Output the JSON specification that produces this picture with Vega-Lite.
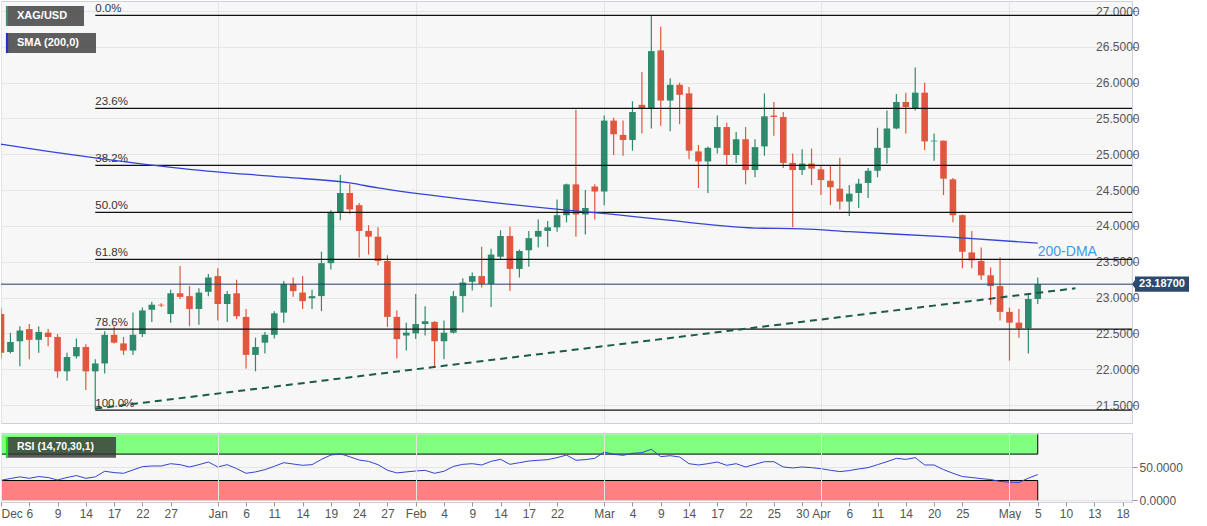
{
"$schema": "https://vega.github.io/schema/vega-lite/v6.json",
"background": "white",
"padding": 0,
"spacing": 8,
"config": {"font": "Liberation Sans", "view": {"fill": "#f7f7f7", "stroke": "#cdd1db"}, "axis": {"labelFont": "Liberation Sans", "labelColor": "#555555", "labelFontSize": 12, "tickColor": "#999999", "gridColor": "#e4e4e4", "domain": false, "labelAngle": 0, "labelOverlap": false, "labelFlush": false, "labelBound": false}},
"datasets": {
"candles": [
{"date":"2021-12-01","open":22.77,"high":22.85,"low":22.15,"close":22.23,"rsi":30.3},
{"date":"2021-12-02","open":22.24,"high":22.51,"low":22.22,"close":22.38,"rsi":33},
{"date":"2021-12-03","open":22.39,"high":22.60,"low":22.04,"close":22.54,"rsi":35.5},
{"date":"2021-12-06","open":22.56,"high":22.63,"low":22.14,"close":22.41,"rsi":33.3},
{"date":"2021-12-07","open":22.41,"high":22.60,"low":22.23,"close":22.52,"rsi":36},
{"date":"2021-12-08","open":22.51,"high":22.56,"low":22.32,"close":22.45,"rsi":34.5},
{"date":"2021-12-09","open":22.45,"high":22.49,"low":21.88,"close":21.97,"rsi":30.8},
{"date":"2021-12-10","open":21.97,"high":22.23,"low":21.84,"close":22.17,"rsi":34.5},
{"date":"2021-12-13","open":22.18,"high":22.43,"low":22.15,"close":22.31,"rsi":37.5},
{"date":"2021-12-14","open":22.31,"high":22.35,"low":21.71,"close":21.97,"rsi":33.3},
{"date":"2021-12-15","open":21.97,"high":22.14,"low":21.44,"close":22.08,"rsi":35.5},
{"date":"2021-12-16","open":22.08,"high":22.53,"low":21.94,"close":22.48,"rsi":44},
{"date":"2021-12-17","open":22.48,"high":22.60,"low":22.36,"close":22.37,"rsi":42},
{"date":"2021-12-20","open":22.36,"high":22.45,"low":22.20,"close":22.26,"rsi":40.9},
{"date":"2021-12-21","open":22.26,"high":22.79,"low":22.20,"close":22.48,"rsi":46},
{"date":"2021-12-22","open":22.49,"high":22.86,"low":22.45,"close":22.82,"rsi":51},
{"date":"2021-12-23","open":22.83,"high":22.94,"low":22.66,"close":22.90,"rsi":52},
{"date":"2021-12-24","open":22.90,"high":22.92,"low":22.87,"close":22.89,"rsi":52},
{"date":"2021-12-27","open":22.77,"high":23.11,"low":22.65,"close":23.06,"rsi":55.5},
{"date":"2021-12-28","open":23.06,"high":23.44,"low":22.98,"close":23.01,"rsi":54},
{"date":"2021-12-29","open":23.02,"high":23.16,"low":22.60,"close":22.84,"rsi":50.5},
{"date":"2021-12-30","open":22.84,"high":23.13,"low":22.62,"close":23.07,"rsi":54},
{"date":"2021-12-31","open":23.08,"high":23.33,"low":23.02,"close":23.28,"rsi":58},
{"date":"2022-01-03","open":23.30,"high":23.41,"low":22.68,"close":22.91,"rsi":50.5},
{"date":"2022-01-04","open":22.91,"high":23.09,"low":22.66,"close":23.05,"rsi":54},
{"date":"2022-01-05","open":23.06,"high":23.25,"low":22.70,"close":22.74,"rsi":48},
{"date":"2022-01-06","open":22.73,"high":22.84,"low":22.01,"close":22.20,"rsi":40.9},
{"date":"2022-01-07","open":22.20,"high":22.44,"low":21.97,"close":22.31,"rsi":43},
{"date":"2022-01-10","open":22.37,"high":22.52,"low":22.22,"close":22.48,"rsi":46.4},
{"date":"2022-01-11","open":22.48,"high":22.81,"low":22.43,"close":22.78,"rsi":51.5},
{"date":"2022-01-12","open":22.79,"high":23.23,"low":22.65,"close":23.19,"rsi":57},
{"date":"2022-01-13","open":23.19,"high":23.28,"low":23.01,"close":23.09,"rsi":55},
{"date":"2022-01-14","open":23.07,"high":23.30,"low":22.84,"close":22.95,"rsi":53},
{"date":"2022-01-17","open":22.99,"high":23.11,"low":22.84,"close":23.02,"rsi":54},
{"date":"2022-01-18","open":23.02,"high":23.64,"low":22.81,"close":23.48,"rsi":62},
{"date":"2022-01-19","open":23.48,"high":24.22,"low":23.39,"close":24.18,"rsi":68.6},
{"date":"2022-01-20","open":24.19,"high":24.71,"low":24.08,"close":24.46,"rsi":70.5},
{"date":"2022-01-21","open":24.46,"high":24.58,"low":24.17,"close":24.23,"rsi":66},
{"date":"2022-01-24","open":24.29,"high":24.32,"low":23.56,"close":23.93,"rsi":61},
{"date":"2022-01-25","open":23.93,"high":24.01,"low":23.60,"close":23.85,"rsi":59},
{"date":"2022-01-26","open":23.85,"high":23.98,"low":23.45,"close":23.51,"rsi":54},
{"date":"2022-01-27","open":23.51,"high":23.59,"low":22.59,"close":22.73,"rsi":45.5},
{"date":"2022-01-28","open":22.73,"high":22.82,"low":22.15,"close":22.42,"rsi":41.5},
{"date":"2022-01-31","open":22.47,"high":22.65,"low":22.26,"close":22.51,"rsi":43},
{"date":"2022-02-01","open":22.50,"high":23.05,"low":22.42,"close":22.63,"rsi":44.4},
{"date":"2022-02-02","open":22.63,"high":22.88,"low":22.47,"close":22.67,"rsi":45.4},
{"date":"2022-02-03","open":22.66,"high":22.67,"low":22.02,"close":22.39,"rsi":40.9},
{"date":"2022-02-04","open":22.39,"high":22.68,"low":22.14,"close":22.51,"rsi":44},
{"date":"2022-02-07","open":22.51,"high":23.09,"low":22.50,"close":23.02,"rsi":51.4},
{"date":"2022-02-08","open":23.02,"high":23.27,"low":22.79,"close":23.21,"rsi":54.5},
{"date":"2022-02-09","open":23.22,"high":23.35,"low":23.10,"close":23.30,"rsi":55.5},
{"date":"2022-02-10","open":23.30,"high":23.71,"low":23.14,"close":23.19,"rsi":53.5},
{"date":"2022-02-11","open":23.19,"high":23.68,"low":22.87,"close":23.60,"rsi":59},
{"date":"2022-02-14","open":23.57,"high":23.94,"low":23.53,"close":23.86,"rsi":62.1},
{"date":"2022-02-15","open":23.86,"high":23.99,"low":23.09,"close":23.40,"rsi":54.5},
{"date":"2022-02-16","open":23.40,"high":23.67,"low":23.28,"close":23.65,"rsi":57},
{"date":"2022-02-17","open":23.66,"high":23.93,"low":23.43,"close":23.83,"rsi":59.5},
{"date":"2022-02-18","open":23.85,"high":24.09,"low":23.70,"close":23.93,"rsi":60.6},
{"date":"2022-02-21","open":23.93,"high":24.07,"low":23.71,"close":23.98,"rsi":61.6},
{"date":"2022-02-22","open":23.98,"high":24.37,"low":23.92,"close":24.15,"rsi":64.6},
{"date":"2022-02-23","open":24.15,"high":24.59,"low":24.05,"close":24.58,"rsi":68.6},
{"date":"2022-02-24","open":24.58,"high":25.62,"low":23.85,"close":24.16,"rsi":60.6},
{"date":"2022-02-25","open":24.16,"high":24.50,"low":23.88,"close":24.25,"rsi":61.6},
{"date":"2022-02-28","open":24.55,"high":24.58,"low":24.09,"close":24.48,"rsi":63.6},
{"date":"2022-03-01","open":24.48,"high":25.54,"low":24.29,"close":25.47,"rsi":73.2},
{"date":"2022-03-02","open":25.47,"high":25.51,"low":24.99,"close":25.28,"rsi":69.7},
{"date":"2022-03-03","open":25.27,"high":25.47,"low":24.98,"close":25.20,"rsi":68.2},
{"date":"2022-03-04","open":25.20,"high":25.74,"low":25.05,"close":25.59,"rsi":71.2},
{"date":"2022-03-07","open":25.69,"high":26.15,"low":25.29,"close":25.64,"rsi":72.2},
{"date":"2022-03-08","open":25.64,"high":26.94,"low":25.36,"close":26.44,"rsi":77.3},
{"date":"2022-03-09","open":26.45,"high":26.78,"low":25.40,"close":25.75,"rsi":66.1},
{"date":"2022-03-10","open":25.75,"high":26.06,"low":25.32,"close":25.97,"rsi":67.6},
{"date":"2022-03-11","open":25.97,"high":26.00,"low":25.42,"close":25.83,"rsi":65.6},
{"date":"2022-03-14","open":25.85,"high":25.94,"low":24.93,"close":25.05,"rsi":55.5},
{"date":"2022-03-15","open":25.04,"high":25.13,"low":24.53,"close":24.90,"rsi":53.5},
{"date":"2022-03-16","open":24.90,"high":25.11,"low":24.46,"close":25.09,"rsi":55.5},
{"date":"2022-03-17","open":25.09,"high":25.54,"low":25.01,"close":25.38,"rsi":58},
{"date":"2022-03-18","open":25.38,"high":25.44,"low":24.84,"close":24.99,"rsi":53},
{"date":"2022-03-21","open":24.99,"high":25.31,"low":24.88,"close":25.21,"rsi":55.5},
{"date":"2022-03-22","open":25.21,"high":25.38,"low":24.58,"close":24.78,"rsi":50.5},
{"date":"2022-03-23","open":24.78,"high":25.21,"low":24.68,"close":25.10,"rsi":54.5},
{"date":"2022-03-24","open":25.11,"high":25.85,"low":24.98,"close":25.53,"rsi":58.5},
{"date":"2022-03-25","open":25.54,"high":25.73,"low":25.26,"close":25.52,"rsi":58.5},
{"date":"2022-03-28","open":25.52,"high":25.59,"low":24.81,"close":24.88,"rsi":50.5},
{"date":"2022-03-29","open":24.88,"high":25.01,"low":23.98,"close":24.78,"rsi":49},
{"date":"2022-03-30","open":24.78,"high":25.07,"low":24.71,"close":24.87,"rsi":50.5},
{"date":"2022-03-31","open":24.87,"high":25.08,"low":24.57,"close":24.80,"rsi":49.5},
{"date":"2022-04-01","open":24.79,"high":24.85,"low":24.43,"close":24.64,"rsi":47.9},
{"date":"2022-04-04","open":24.63,"high":24.85,"low":24.29,"close":24.54,"rsi":45.5},
{"date":"2022-04-05","open":24.52,"high":24.95,"low":24.23,"close":24.34,"rsi":43.5},
{"date":"2022-04-06","open":24.34,"high":24.57,"low":24.14,"close":24.45,"rsi":45},
{"date":"2022-04-07","open":24.46,"high":24.66,"low":24.25,"close":24.59,"rsi":47.5},
{"date":"2022-04-08","open":24.60,"high":24.81,"low":24.39,"close":24.77,"rsi":49.5},
{"date":"2022-04-11","open":24.77,"high":25.37,"low":24.68,"close":25.09,"rsi":54},
{"date":"2022-04-12","open":25.09,"high":25.61,"low":24.87,"close":25.36,"rsi":58.5},
{"date":"2022-04-13","open":25.36,"high":25.84,"low":25.35,"close":25.73,"rsi":63.6},
{"date":"2022-04-14","open":25.73,"high":25.86,"low":25.29,"close":25.66,"rsi":62},
{"date":"2022-04-18","open":25.64,"high":26.21,"low":25.61,"close":25.86,"rsi":64.6},
{"date":"2022-04-19","open":25.86,"high":26.00,"low":25.06,"close":25.18,"rsi":53.5},
{"date":"2022-04-20","open":25.18,"high":25.29,"low":24.91,"close":25.19,"rsi":53.5},
{"date":"2022-04-21","open":25.19,"high":25.19,"low":24.43,"close":24.66,"rsi":46.5},
{"date":"2022-04-22","open":24.65,"high":24.67,"low":24.05,"close":24.15,"rsi":41},
{"date":"2022-04-25","open":24.15,"high":24.16,"low":23.41,"close":23.64,"rsi":36},
{"date":"2022-04-26","open":23.63,"high":23.93,"low":23.41,"close":23.52,"rsi":34.5},
{"date":"2022-04-27","open":23.51,"high":23.70,"low":23.25,"close":23.31,"rsi":32.8},
{"date":"2022-04-28","open":23.31,"high":23.42,"low":22.90,"close":23.16,"rsi":31.5},
{"date":"2022-04-29","open":23.16,"high":23.56,"low":22.68,"close":22.80,"rsi":28.5},
{"date":"2022-05-02","open":22.80,"high":22.86,"low":22.12,"close":22.65,"rsi":27.5},
{"date":"2022-05-03","open":22.65,"high":22.84,"low":22.44,"close":22.57,"rsi":27},
{"date":"2022-05-04","open":22.57,"high":23.05,"low":22.22,"close":22.98,"rsi":33.5},
{"date":"2022-05-05","open":22.98,"high":23.28,"low":22.91,"close":23.187,"rsi":39}
],
"sma": [
{"date":"2021-12-01","sma":25.14},{"date":"2021-12-08","sma":25.04},{"date":"2021-12-15","sma":24.95},{"date":"2021-12-29","sma":24.79},{"date":"2022-01-12","sma":24.68},{"date":"2022-01-21","sma":24.60},{"date":"2022-01-26","sma":24.53},{"date":"2022-02-09","sma":24.36},{"date":"2022-02-23","sma":24.22},{"date":"2022-03-02","sma":24.16},{"date":"2022-03-09","sma":24.09},{"date":"2022-03-23","sma":23.97},{"date":"2022-03-30","sma":23.96},{"date":"2022-04-06","sma":23.92},{"date":"2022-04-21","sma":23.85},{"date":"2022-05-05","sma":23.76}
],
"trend": [{"date":"2021-12-15","price":21.45},{"date":"2022-05-11","price":23.13}],
"fibs": [
{"level":"0.0%","price":26.94},{"level":"23.6%","price":25.64},{"level":"38.2%","price":24.845},{"level":"50.0%","price":24.19},{"level":"61.8%","price":23.534},{"level":"78.6%","price":22.56},{"level":"100.0%","price":21.43}
],
"last": [{"date":"2022-05-05","close":23.187}],
"bands": [{"zone":"overbought","lo":70,"hi":100,"edge":70},{"zone":"oversold","lo":0,"hi":30,"edge":30}]
},
"vconcat": [
{
"width": 1131, "height": 422,
"encoding": {"x": {"field": "date", "type": "ordinal", "title": null,
  "scale": {"type": "point", "padding": 0, "domain": ["2021-12-01","2021-12-02","2021-12-03","2021-12-06","2021-12-07","2021-12-08","2021-12-09","2021-12-10","2021-12-13","2021-12-14","2021-12-15","2021-12-16","2021-12-17","2021-12-20","2021-12-21","2021-12-22","2021-12-23","2021-12-24","2021-12-27","2021-12-28","2021-12-29","2021-12-30","2021-12-31","2022-01-03","2022-01-04","2022-01-05","2022-01-06","2022-01-07","2022-01-10","2022-01-11","2022-01-12","2022-01-13","2022-01-14","2022-01-17","2022-01-18","2022-01-19","2022-01-20","2022-01-21","2022-01-24","2022-01-25","2022-01-26","2022-01-27","2022-01-28","2022-01-31","2022-02-01","2022-02-02","2022-02-03","2022-02-04","2022-02-07","2022-02-08","2022-02-09","2022-02-10","2022-02-11","2022-02-14","2022-02-15","2022-02-16","2022-02-17","2022-02-18","2022-02-21","2022-02-22","2022-02-23","2022-02-24","2022-02-25","2022-02-28","2022-03-01","2022-03-02","2022-03-03","2022-03-04","2022-03-07","2022-03-08","2022-03-09","2022-03-10","2022-03-11","2022-03-14","2022-03-15","2022-03-16","2022-03-17","2022-03-18","2022-03-21","2022-03-22","2022-03-23","2022-03-24","2022-03-25","2022-03-28","2022-03-29","2022-03-30","2022-03-31","2022-04-01","2022-04-04","2022-04-05","2022-04-06","2022-04-07","2022-04-08","2022-04-11","2022-04-12","2022-04-13","2022-04-14","2022-04-18","2022-04-19","2022-04-20","2022-04-21","2022-04-22","2022-04-25","2022-04-26","2022-04-27","2022-04-28","2022-04-29","2022-05-02","2022-05-03","2022-05-04","2022-05-05","2022-05-06","2022-05-09","2022-05-10","2022-05-11","2022-05-12","2022-05-13","2022-05-16","2022-05-17","2022-05-18","2022-05-19"]},
  "axis": {"values": ["2021-12-01","2022-01-03","2022-02-01","2022-03-01","2022-04-01","2022-05-02"], "tickCount": 50, "grid": true, "labels": false, "ticks": false, "domain": false, "title": null}}},
"layer": [
{"data": {"name": "candles"}, "mark": {"type": "rule", "strokeWidth": 1.2, "clip": true},
 "encoding": {"y": {"field": "low", "type": "quantitative", "title": null}, "y2": {"field": "high"},
  "color": {"condition": {"test": "datum.close >= datum.open", "value": "#2f8a6d"}, "value": "#e0573e"}}},
{"data": {"name": "candles"}, "mark": {"type": "rule", "strokeWidth": 6.6, "strokeCap": "butt", "clip": true},
 "encoding": {"y": {"field": "open", "type": "quantitative", "title": null}, "y2": {"field": "close"},
  "color": {"condition": {"test": "datum.close >= datum.open", "value": "#2f8a6d"}, "value": "#e0573e"}}},
{"data": {"name": "fibs"}, "mark": {"type": "rule", "color": "#111111", "strokeWidth": 1.3},
 "encoding": {"x": {"datum": "2021-12-15", "type": "ordinal"}, "x2": {"datum": "2022-05-19"},
  "y": {"field": "price", "type": "quantitative", "title": null,
   "scale": {"domain": [21.2491, 27.1396], "nice": false, "zero": false},
   "axis": {"orient": "right", "values": [21.5,22,22.5,23,23.5,24,24.5,25,25.5,26,26.5,27], "tickCount": 40, "format": ".4f", "grid": true, "gridColor": "#e6e6e6", "tickSize": 5, "labelPadding": 2, "labelOverlap": false, "labelFlush": false, "labelBound": false, "domain": false, "title": null}}}},
{"data": {"name": "fibs"}, "mark": {"type": "text", "align": "left", "baseline": "alphabetic", "dy": -3, "fontSize": 11.5, "color": "#333333"},
 "encoding": {"x": {"datum": "2021-12-15", "type": "ordinal"}, "y": {"field": "price", "type": "quantitative", "title": null}, "text": {"field": "level"}}},
{"data": {"name": "last"}, "mark": {"type": "rule", "color": "#1f3d66", "strokeWidth": 1},
 "encoding": {"x": {"datum": "2021-12-01", "type": "ordinal"}, "x2": {"datum": "2022-05-19"}, "y": {"field": "close", "type": "quantitative", "title": null}}},
{"data": {"name": "sma"}, "mark": {"type": "line", "color": "#3444d6", "strokeWidth": 1.3, "interpolate": "monotone", "clip": true},
 "encoding": {"y": {"field": "sma", "type": "quantitative", "title": null}}},
{"data": {"name": "trend"}, "mark": {"type": "line", "color": "#1b5b47", "strokeWidth": 2, "strokeDash": [7, 5]},
 "encoding": {"y": {"field": "price", "type": "quantitative", "title": null}}},
{"data": {"values": [{}]}, "mark": {"type": "text", "text": "200-DMA", "align": "left", "baseline": "middle", "fontSize": 14, "color": "#3d9be9"},
 "encoding": {"x": {"datum": "2022-05-05", "type": "ordinal"}, "y": {"datum": 23.636, "type": "quantitative"}}},
{"data": {"name": "last"}, "mark": {"type": "point", "shape": "M -1.11 0 L -1 -0.15 L -1 -0.285 L 1 -0.285 L 1 0.285 L -1 0.285 L -1 0.15 Z", "size": 2916, "filled": true, "color": "#2b4a6e", "opacity": 1, "strokeWidth": 0, "xOffset": 30},
 "encoding": {"x": {"datum": "2022-05-19", "type": "ordinal"}, "y": {"field": "close", "type": "quantitative", "title": null}}},
{"data": {"name": "last"}, "mark": {"type": "text", "align": "center", "baseline": "middle", "dx": 30, "fontSize": 11, "fontWeight": "bold", "color": "#ffffff"},
 "encoding": {"x": {"datum": "2022-05-19", "type": "ordinal"}, "y": {"field": "close", "type": "quantitative", "title": null}, "text": {"field": "close", "format": ".5f"}}},
{"data": {"values": [{}]}, "mark": {"type": "point", "shape": "M -1 -0.256 L 1 -0.256 L 1 0.256 L -1 0.256 Z", "size": 6084, "filled": true, "color": "#333333", "opacity": 0.78, "strokeWidth": 0, "xOffset": 44},
 "encoding": {"x": {"datum": "2021-12-01", "type": "ordinal"}, "y": {"datum": 26.93, "type": "quantitative"}}},
{"data": {"values": [{}]}, "mark": {"type": "point", "shape": "M -1 -0.222 L 1 -0.222 L 1 0.222 L -1 0.222 Z", "size": 8100, "filled": true, "color": "#333333", "opacity": 0.78, "strokeWidth": 0, "xOffset": 50},
 "encoding": {"x": {"datum": "2021-12-01", "type": "ordinal"}, "y": {"datum": 26.553, "type": "quantitative"}}},
{"data": {"values": [{}]}, "mark": {"type": "point", "shape": "M -0.11 -1 L 0.11 -1 L 0.11 1 L -0.11 1 Z", "size": 400, "filled": true, "color": "#3a8f6e", "opacity": 1, "strokeWidth": 0, "xOffset": 6},
 "encoding": {"x": {"datum": "2021-12-01", "type": "ordinal"}, "y": {"datum": 26.93, "type": "quantitative"}}},
{"data": {"values": [{}]}, "mark": {"type": "point", "shape": "M -0.11 -1 L 0.11 -1 L 0.11 1 L -0.11 1 Z", "size": 400, "filled": true, "color": "#2233cc", "opacity": 1, "strokeWidth": 0, "xOffset": 6},
 "encoding": {"x": {"datum": "2021-12-01", "type": "ordinal"}, "y": {"datum": 26.553, "type": "quantitative"}}},
{"data": {"values": [{}]}, "mark": {"type": "text", "text": "XAG/USD", "align": "left", "baseline": "middle", "dx": 16, "fontSize": 11, "fontWeight": "bold", "color": "#ffffff"},
 "encoding": {"x": {"datum": "2021-12-01", "type": "ordinal"}, "y": {"datum": 26.93, "type": "quantitative"}}},
{"data": {"values": [{}]}, "mark": {"type": "text", "text": "SMA (200,0)", "align": "left", "baseline": "middle", "dx": 16, "fontSize": 11, "fontWeight": "bold", "color": "#ffffff"},
 "encoding": {"x": {"datum": "2021-12-01", "type": "ordinal"}, "y": {"datum": 26.553, "type": "quantitative"}}}
]
},
{
"width": 1131, "height": 69,
"encoding": {"x": {"field": "date", "type": "ordinal", "title": null,
  "scale": {"type": "point", "padding": 0, "domain": ["2021-12-01","2021-12-02","2021-12-03","2021-12-06","2021-12-07","2021-12-08","2021-12-09","2021-12-10","2021-12-13","2021-12-14","2021-12-15","2021-12-16","2021-12-17","2021-12-20","2021-12-21","2021-12-22","2021-12-23","2021-12-24","2021-12-27","2021-12-28","2021-12-29","2021-12-30","2021-12-31","2022-01-03","2022-01-04","2022-01-05","2022-01-06","2022-01-07","2022-01-10","2022-01-11","2022-01-12","2022-01-13","2022-01-14","2022-01-17","2022-01-18","2022-01-19","2022-01-20","2022-01-21","2022-01-24","2022-01-25","2022-01-26","2022-01-27","2022-01-28","2022-01-31","2022-02-01","2022-02-02","2022-02-03","2022-02-04","2022-02-07","2022-02-08","2022-02-09","2022-02-10","2022-02-11","2022-02-14","2022-02-15","2022-02-16","2022-02-17","2022-02-18","2022-02-21","2022-02-22","2022-02-23","2022-02-24","2022-02-25","2022-02-28","2022-03-01","2022-03-02","2022-03-03","2022-03-04","2022-03-07","2022-03-08","2022-03-09","2022-03-10","2022-03-11","2022-03-14","2022-03-15","2022-03-16","2022-03-17","2022-03-18","2022-03-21","2022-03-22","2022-03-23","2022-03-24","2022-03-25","2022-03-28","2022-03-29","2022-03-30","2022-03-31","2022-04-01","2022-04-04","2022-04-05","2022-04-06","2022-04-07","2022-04-08","2022-04-11","2022-04-12","2022-04-13","2022-04-14","2022-04-18","2022-04-19","2022-04-20","2022-04-21","2022-04-22","2022-04-25","2022-04-26","2022-04-27","2022-04-28","2022-04-29","2022-05-02","2022-05-03","2022-05-04","2022-05-05","2022-05-06","2022-05-09","2022-05-10","2022-05-11","2022-05-12","2022-05-13","2022-05-16","2022-05-17","2022-05-18","2022-05-19"]},
  "axis": {"values": ["2021-12-01","2021-12-06","2021-12-09","2021-12-14","2021-12-17","2021-12-22","2021-12-27","2022-01-03","2022-01-06","2022-01-11","2022-01-14","2022-01-19","2022-01-24","2022-01-27","2022-02-01","2022-02-04","2022-02-09","2022-02-14","2022-02-17","2022-02-22","2022-03-01","2022-03-04","2022-03-09","2022-03-14","2022-03-17","2022-03-22","2022-03-25","2022-03-30","2022-04-01","2022-04-06","2022-04-11","2022-04-14","2022-04-20","2022-04-25","2022-05-02","2022-05-05","2022-05-10","2022-05-13","2022-05-18"],
   "tickCount": 200,
   "labelExpr": "indexof(['2021-12-01','2022-01-03','2022-02-01','2022-03-01','2022-04-01','2022-05-02'], datum.value) >= 0 ? utcFormat(toDate(datum.value), '%b') : utcFormat(toDate(datum.value), '%-d')",
   "labelAngle": 0, "labelBaseline": "top", "labelFlush": false, "labelOverlap": false, "labelBound": false,
   "labelAlign": {"condition": {"test": "datum.value === '2021-12-01'", "value": "left"}, "value": "center"},
   "tickSize": 4, "labelPadding": 2, "domain": false, "title": null,
   "grid": true, "gridOpacity": {"condition": {"test": "indexof(['2021-12-01','2022-01-03','2022-02-01','2022-03-01','2022-04-01','2022-05-02'], datum.value) >= 0", "value": 1}, "value": 0}}}},
"layer": [
{"data": {"name": "bands"}, "mark": {"type": "rect", "opacity": 1},
 "encoding": {"x": {"datum": "2021-12-01", "type": "ordinal"}, "x2": {"datum": "2022-05-05"},
  "y": {"field": "lo", "type": "quantitative", "title": null, "scale": {"domain": [-2.6, 102], "nice": false, "zero": false},
   "axis": {"orient": "right", "values": [0, 50], "tickCount": 10, "format": ".4f", "grid": true, "gridColor": "#e4e4e4", "tickSize": 5, "labelPadding": 2, "labelOverlap": false, "labelFlush": false, "labelBound": false, "domain": false, "title": null}},
  "y2": {"field": "hi"},
  "fill": {"field": "zone", "type": "nominal", "scale": {"domain": ["overbought", "oversold"], "range": ["#80ff80", "#ff8080"]}, "legend": null}}},
{"data": {"name": "bands"}, "mark": {"type": "rule", "color": "#000000", "strokeWidth": 1},
 "encoding": {"x": {"datum": "2021-12-01", "type": "ordinal"}, "x2": {"datum": "2022-05-05"}, "y": {"field": "edge", "type": "quantitative", "title": null}}},
{"data": {"name": "bands"}, "mark": {"type": "rule", "color": "#000000", "strokeWidth": 1},
 "encoding": {"x": {"datum": "2022-05-05", "type": "ordinal"}, "y": {"field": "lo", "type": "quantitative", "title": null}, "y2": {"field": "hi"}}},
{"data": {"name": "bands"}, "mark": {"type": "rule", "color": "#000000", "strokeWidth": 1.5, "clip": true},
 "encoding": {"x": {"datum": "2021-12-01", "type": "ordinal"}, "y": {"field": "lo", "type": "quantitative", "title": null}, "y2": {"field": "hi"}}},
{"data": {"name": "candles"}, "mark": {"type": "line", "color": "#3344cc", "strokeWidth": 1, "clip": true},
 "encoding": {"y": {"field": "rsi", "type": "quantitative", "title": null}}},
{"data": {"values": [{}]}, "mark": {"type": "point", "shape": "M -1 -0.188 L 1 -0.188 L 1 0.188 L -1 0.188 Z", "size": 12100, "filled": true, "color": "#333333", "opacity": 0.8, "strokeWidth": 0, "xOffset": 60},
 "encoding": {"x": {"datum": "2021-12-01", "type": "ordinal"}, "y": {"datum": 80.3, "type": "quantitative"}}},
{"data": {"values": [{}]}, "mark": {"type": "point", "shape": "M -0.11 -1 L 0.11 -1 L 0.11 1 L -0.11 1 Z", "size": 441, "filled": true, "color": "#22dd22", "opacity": 1, "strokeWidth": 0, "xOffset": 6},
 "encoding": {"x": {"datum": "2021-12-01", "type": "ordinal"}, "y": {"datum": 80.3, "type": "quantitative"}}},
{"data": {"values": [{}]}, "mark": {"type": "text", "text": "RSI (14,70,30,1)", "align": "left", "baseline": "middle", "dx": 16, "fontSize": 10.5, "fontWeight": "bold", "color": "#ffffff"},
 "encoding": {"x": {"datum": "2021-12-01", "type": "ordinal"}, "y": {"datum": 80.3, "type": "quantitative"}}}
]
}
]
}
